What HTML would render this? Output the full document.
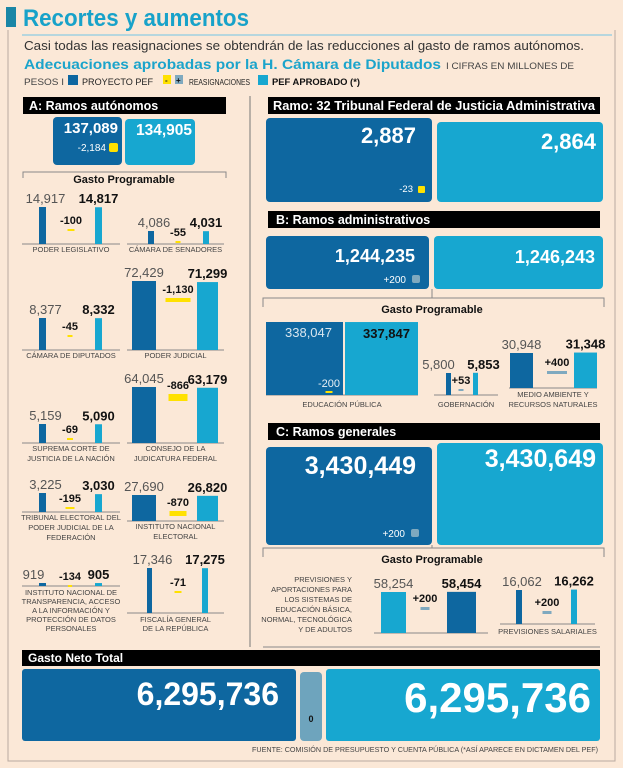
<!DOCTYPE html>
<html><head><meta charset="utf-8">
<style>
html,body{margin:0;padding:0;background:#fbe8d7;}
svg{display:block;font-family:"Liberation Sans",sans-serif;}
</style></head>
<body>
<svg id="info" width="623" height="768" viewBox="0 0 623 768" xmlns="http://www.w3.org/2000/svg">
<rect x="0" y="0" width="623" height="768" fill="#fbe8d7"/>
<path d="M8 30 V761 H615 V30" fill="none" stroke="#b9aaa0" stroke-width="1"/>
<rect x="6" y="7" width="10" height="20" fill="#1a86a6"/>
<text x="23" y="26" font-size="24" font-weight="bold" fill="#18a2c9" textLength="226" lengthAdjust="spacingAndGlyphs">Recortes y aumentos</text>
<line x1="22" y1="35" x2="612" y2="35" stroke="#9fd0e0" stroke-width="1.5"/>
<text x="24" y="50" font-size="13" fill="#333" textLength="560" lengthAdjust="spacingAndGlyphs">Casi todas las reasignaciones se obtendrán de las reducciones al gasto de ramos autónomos.</text>
<text x="24" y="69" font-size="14" font-weight="bold" fill="#1ba4cb" textLength="417" lengthAdjust="spacingAndGlyphs">Adecuaciones aprobadas por la H. Cámara de Diputados</text>
<text x="446" y="69" font-size="9.5" fill="#444" textLength="128" lengthAdjust="spacingAndGlyphs">I CIFRAS EN MILLONES DE</text>
<text x="24" y="85" font-size="9.5" fill="#444" textLength="40" lengthAdjust="spacingAndGlyphs">PESOS I</text>
<rect x="68" y="75" width="10" height="10" fill="#0e67a0"/>
<text x="82" y="85" font-size="9.5" fill="#222" textLength="71" lengthAdjust="spacingAndGlyphs">PROYECTO PEF</text>
<rect x="163" y="75" width="8" height="9" fill="#ffe100"/>
<text x="165" y="83" font-size="8" font-weight="bold" fill="#222">-</text>
<rect x="175" y="75" width="8" height="9" fill="#7fa9bf"/>
<text x="176" y="83" font-size="8" font-weight="bold" fill="#111">+</text>
<text x="189" y="85" font-size="8" fill="#222" textLength="61" lengthAdjust="spacingAndGlyphs">REASIGNACIONES</text>
<rect x="258" y="75" width="10" height="10" fill="#17a7d0"/>
<text x="272" y="85" font-size="9.5" font-weight="bold" fill="#111" textLength="88" lengthAdjust="spacingAndGlyphs">PEF APROBADO (*)</text>

<line x1="250" y1="96" x2="250" y2="647" stroke="#777" stroke-width="1"/>

<rect x="23" y="97" width="203" height="17" fill="#000"/>
<text x="29" y="110" font-size="12.5" font-weight="bold" fill="#fff">A: Ramos autónomos</text>
<rect x="53" y="117" width="69" height="48" rx="4" fill="#0e67a0"/>
<text x="118" y="133" font-size="15" font-weight="bold" fill="#fff" text-anchor="end">137,089</text>
<text x="106" y="151" font-size="10" fill="#fff" text-anchor="end">-2,184</text>
<rect x="109" y="143" width="9" height="9" rx="2" fill="#ffe100"/>
<rect x="125" y="119" width="70" height="46" rx="4" fill="#17a7d0"/>
<text x="192" y="135" font-size="15.5" font-weight="bold" fill="#fff" text-anchor="end">134,905</text>
<path d="M23 178 V172 H226 V178" fill="none" stroke="#888"/>
<text x="124" y="183" font-size="11" font-weight="bold" fill="#111" text-anchor="middle">Gasto Programable</text>

<rect x="268" y="97" width="332" height="17" fill="#000"/>
<text x="273" y="110" font-size="12.5" font-weight="bold" fill="#fff" textLength="322" lengthAdjust="spacingAndGlyphs">Ramo: 32 Tribunal Federal de Justicia Administrativa</text>
<rect x="266" y="118" width="166" height="84" rx="4" fill="#0e67a0"/>
<text x="416" y="143" font-size="22" font-weight="bold" fill="#fff" text-anchor="end">2,887</text>
<text x="413" y="192" font-size="9.5" fill="#fff" text-anchor="end">-23</text>
<rect x="418" y="186" width="7" height="7" rx="1" fill="#ffe100"/>
<rect x="437" y="122" width="166" height="80" rx="4" fill="#17a7d0"/>
<text x="596" y="149" font-size="22" font-weight="bold" fill="#fff" text-anchor="end">2,864</text>

<rect x="268" y="211" width="332" height="17" fill="#000"/>
<text x="276" y="224" font-size="12.5" font-weight="bold" fill="#fff">B: Ramos administrativos</text>
<rect x="266" y="236" width="163" height="53" rx="4" fill="#0e67a0"/>
<text x="415" y="262" font-size="18" font-weight="bold" fill="#fff" text-anchor="end">1,244,235</text>
<text x="406" y="283" font-size="10" fill="#fff" text-anchor="end">+200</text>
<rect x="412" y="275" width="8" height="8" rx="2" fill="#7fa9bf"/>
<rect x="434" y="236" width="169" height="53" rx="4" fill="#17a7d0"/>
<text x="595" y="263" font-size="18" font-weight="bold" fill="#fff" text-anchor="end">1,246,243</text>
<path d="M263 307 V298 H604 V307 M432 298 V289" fill="none" stroke="#888"/>
<text x="432" y="313" font-size="11" font-weight="bold" fill="#111" text-anchor="middle">Gasto Programable</text>

<rect x="268" y="423" width="332" height="17" fill="#000"/>
<text x="276" y="436" font-size="12.5" font-weight="bold" fill="#fff">C: Ramos generales</text>
<rect x="266" y="447" width="166" height="98" rx="4" fill="#0e67a0"/>
<text x="416" y="474" font-size="25" font-weight="bold" fill="#fff" text-anchor="end">3,430,449</text>
<text x="405" y="537" font-size="10" fill="#fff" text-anchor="end">+200</text>
<rect x="411" y="529" width="8" height="8" rx="2" fill="#7fa9bf"/>
<rect x="437" y="443" width="166" height="102" rx="4" fill="#17a7d0"/>
<text x="596" y="467" font-size="25" font-weight="bold" fill="#fff" text-anchor="end">3,430,649</text>
<path d="M263 557 V548 H604 V557 M432 548 V545" fill="none" stroke="#888"/>
<text x="432" y="563" font-size="11" font-weight="bold" fill="#111" text-anchor="middle">Gasto Programable</text>
<line x1="263" y1="647" x2="600" y2="647" stroke="#888"/>

<rect x="22" y="650" width="578" height="16" fill="#000"/>
<text x="28" y="662" font-size="12" font-weight="bold" fill="#fff">Gasto Neto Total</text>
<rect x="22" y="669" width="274" height="72" rx="3" fill="#0e67a0"/>
<text x="279" y="705" font-size="32" font-weight="bold" fill="#fff" text-anchor="end">6,295,736</text>
<rect x="300" y="672" width="22" height="69" rx="4" fill="#6ea4bd"/>
<text x="311" y="722" font-size="9" font-weight="bold" fill="#111" text-anchor="middle">0</text>
<rect x="326" y="669" width="274" height="72" rx="3" fill="#17a7d0"/>
<text x="591" y="712" font-size="42" font-weight="bold" fill="#fff" text-anchor="end">6,295,736</text>
<text x="598" y="752" font-size="7.5" fill="#444" text-anchor="end" textLength="346" lengthAdjust="spacingAndGlyphs">FUENTE: COMISIÓN DE PRESUPUESTO Y CUENTA PÚBLICA (*ASÍ APARECE EN DICTAMEN DEL PEF)</text>

<g id="charts"></g>
</svg>
<script>
const categories = ["PODER LEGISLATIVO","CÁMARA DE SENADORES","CÁMARA DE DIPUTADOS","PODER JUDICIAL","SUPREMA CORTE DE|JUSTICIA DE LA NACIÓN","CONSEJO DE LA|JUDICATURA FEDERAL","TRIBUNAL ELECTORAL DEL|PODER JUDICIAL DE LA|FEDERACIÓN","INSTITUTO NACIONAL|ELECTORAL","INSTITUTO NACIONAL DE|TRANSPARENCIA, ACCESO|A LA INFORMACIÓN Y|PROTECCIÓN DE DATOS|PERSONALES","FISCALÍA GENERAL|DE LA REPÚBLICA","EDUCACIÓN PÚBLICA","GOBERNACIÓN","MEDIO AMBIENTE Y|RECURSOS NATURALES","PREVISIONES Y|APORTACIONES PARA|LOS SISTEMAS DE|EDUCACIÓN BÁSICA,|NORMAL, TECNOLÓGICA|Y DE ADULTOS","PREVISIONES SALARIALES"];
const proyecto = [14917,4086,8377,72429,5159,64045,3225,27690,919,17346,338047,5800,30948,58254,16062];
const reasignacion = [-100,-55,-45,-1130,-69,-866,-195,-870,-134,-71,-200,53,400,200,200];
const aprobado = [14817,4031,8332,71299,5090,63179,3030,26820,905,17275,337847,5853,31348,58454,16262];

// layout only (positions/sizes), not data
const layout = [
 {xd:39,bw:7,xl:95,bwl:7,base:244,hmax:37,xm:71,ym:229,dw:7,ax:[22,120],cy:252},
 {xd:148,bw:6,xl:203,bwl:6,base:244,hmax:13,xm:178,ym:241,dw:5,ax:[127,224],cy:252},
 {xd:39,bw:7,xl:95,bwl:7,base:350,hmax:32,xm:70,ym:335,dw:5,ax:[22,120],cy:358},
 {xd:132,bw:24,xl:197,bwl:21,base:350,hmax:69,xm:178,ym:298,dw:25,dh:4,ax:[127,224],cy:358},
 {xd:39,bw:7,xl:95,bwl:7,base:443,hmax:19,xm:70,ym:438,dw:6,ax:[22,120],cy:451},
 {xd:132,bw:24,xl:197,bwl:21,base:443,hmax:56,xm:178,ym:394,dw:19,dh:7,ax:[127,224],cy:451},
 {xd:39,bw:7,xl:95,bwl:7,base:512,hmax:19,xm:70,ym:507,dw:9,ax:[22,120],cy:520},
 {xd:132,bw:24,xl:197,bwl:21,base:521,hmax:26,xm:178,ym:511,dw:17,dh:5,ax:[127,224],cy:529},
 {xd:39,bw:7,xl:95,bwl:7,base:586,hmax:3,xm:70,ym:585,dw:4,ax:[22,120],cy:595,lh:9,pdx:-9},
 {xd:147,bw:5,xl:202,bwl:6,base:613,hmax:45,xm:178,ym:591,dw:7,ax:[127,224],cy:622,lh:9},
 {xd:266,bw:77,xl:345,bwl:73,base:395,hmax:73,xm:329,ym:391,dw:7,ax:[266,418],cy:407,inside:true},
 {xd:446,bw:5,xl:473,bwl:5,base:395,hmax:22,xm:461,ym:389,dw:5,ax:[434,498],cy:407,pdx:-10,adx:8},
 {xd:510,bw:23,xl:574,bwl:23,base:388,hmax:35,xm:557,ym:371,dw:20,dh:3,ax:[509,597],cy:397},
 {xd:381,bw:25,xl:447,bwl:29,base:633,hmax:41,xm:425,ym:607,dw:9,dh:3,ax:[374,488],cy:582,capX:352,swap:true},
 {xd:516,bw:6,xl:571,bwl:6,base:624,hmax:34,xm:547,ym:611,dw:9,dh:3,ax:[500,595],cy:634}
];
const DARK="#0e67a0", LIGHT="#17a7d0", YEL="#ffe100", GREY="#7fa9bf";
const NS="http://www.w3.org/2000/svg";
const g=document.getElementById("charts");
function fmt(v){return Math.abs(v).toString().replace(/\B(?=(\d{3})+(?!\d))/g,",");}
function sgn(v){return (v<0?"-":"+")+fmt(v);}
function mk(tag,attrs){const e=document.createElementNS(NS,tag);for(const k in attrs)e.setAttribute(k,attrs[k]);g.appendChild(e);return e;}
function yScale(i,v){const L=layout[i];return L.base - v/proyecto[i]*L.hmax;}

categories.forEach((cat,i)=>{
  const L=layout[i];
  const pdx=L.pdx!==undefined?L.pdx:(L.bw<10?3:0);
  const adx=L.adx||0;
  const ax=mk("line",{x1:L.ax[0],x2:L.ax[1],y1:L.base,y2:L.base,stroke:"#888","stroke-width":1});
  
  
  const yd=yScale(i,proyecto[i]), yl=yScale(i,aprobado[i]);
  const bd=mk("rect",{x:L.xd,y:yd,width:L.bw,height:L.base-yd,fill:L.swap?LIGHT:DARK});
  
  
  const bl=mk("rect",{x:L.xl,y:yl,width:L.bwl,height:L.base-yl,fill:L.swap?DARK:LIGHT});
  
  
  const r=reasignacion[i];
  const dh=L.dh||2;
  const bm=mk("rect",{x:L.xm-L.dw/2,y:L.ym,width:L.dw,height:dh,fill:r<0?YEL:GREY});
  
  
  let t1,t2,t3;
  if(L.inside){
    t1=mk("text",{x:L.xd+L.bw/2+4,y:yd+15,"font-size":13,fill:"#d8e6ef","text-anchor":"middle"});
    t2=mk("text",{x:L.xl+L.bwl/2+5,y:yl+16,"font-size":13,"font-weight":"bold",fill:"#111","text-anchor":"middle"});
    t3=mk("text",{x:L.xm,y:L.ym-4,"font-size":11,fill:"#e8f0f5","text-anchor":"middle"});
  } else {
    t1=mk("text",{x:L.xd+L.bw/2+pdx,y:yd-4,"font-size":13,fill:"#555","text-anchor":"middle"});
    t2=mk("text",{x:L.xl+L.bwl/2+adx,y:yl-4,"font-size":13,"font-weight":"bold",fill:"#111","text-anchor":"middle"});
    t3=mk("text",{x:L.xm,y:L.ym-5,"font-size":11,"font-weight":"bold",fill:"#111","text-anchor":"middle"});
  }
  t1.textContent=fmt(proyecto[i]);
  
  
  t2.textContent=fmt(aprobado[i]);
  
  
  t3.textContent=sgn(r);
  
  
  const lines=cat.split("|");
  const lh=L.lh||10;
  const cx=L.capX!==undefined?L.capX:(L.ax[0]+L.ax[1])/2;
  lines.forEach((ln,k)=>{
    const c=mk("text",{x:cx,y:L.cy+k*lh,"font-size":7.5,fill:"#444","text-anchor":L.capX!==undefined?"end":"middle"});
    c.textContent=ln;
    
    
  });
});
</script>
</body></html>
